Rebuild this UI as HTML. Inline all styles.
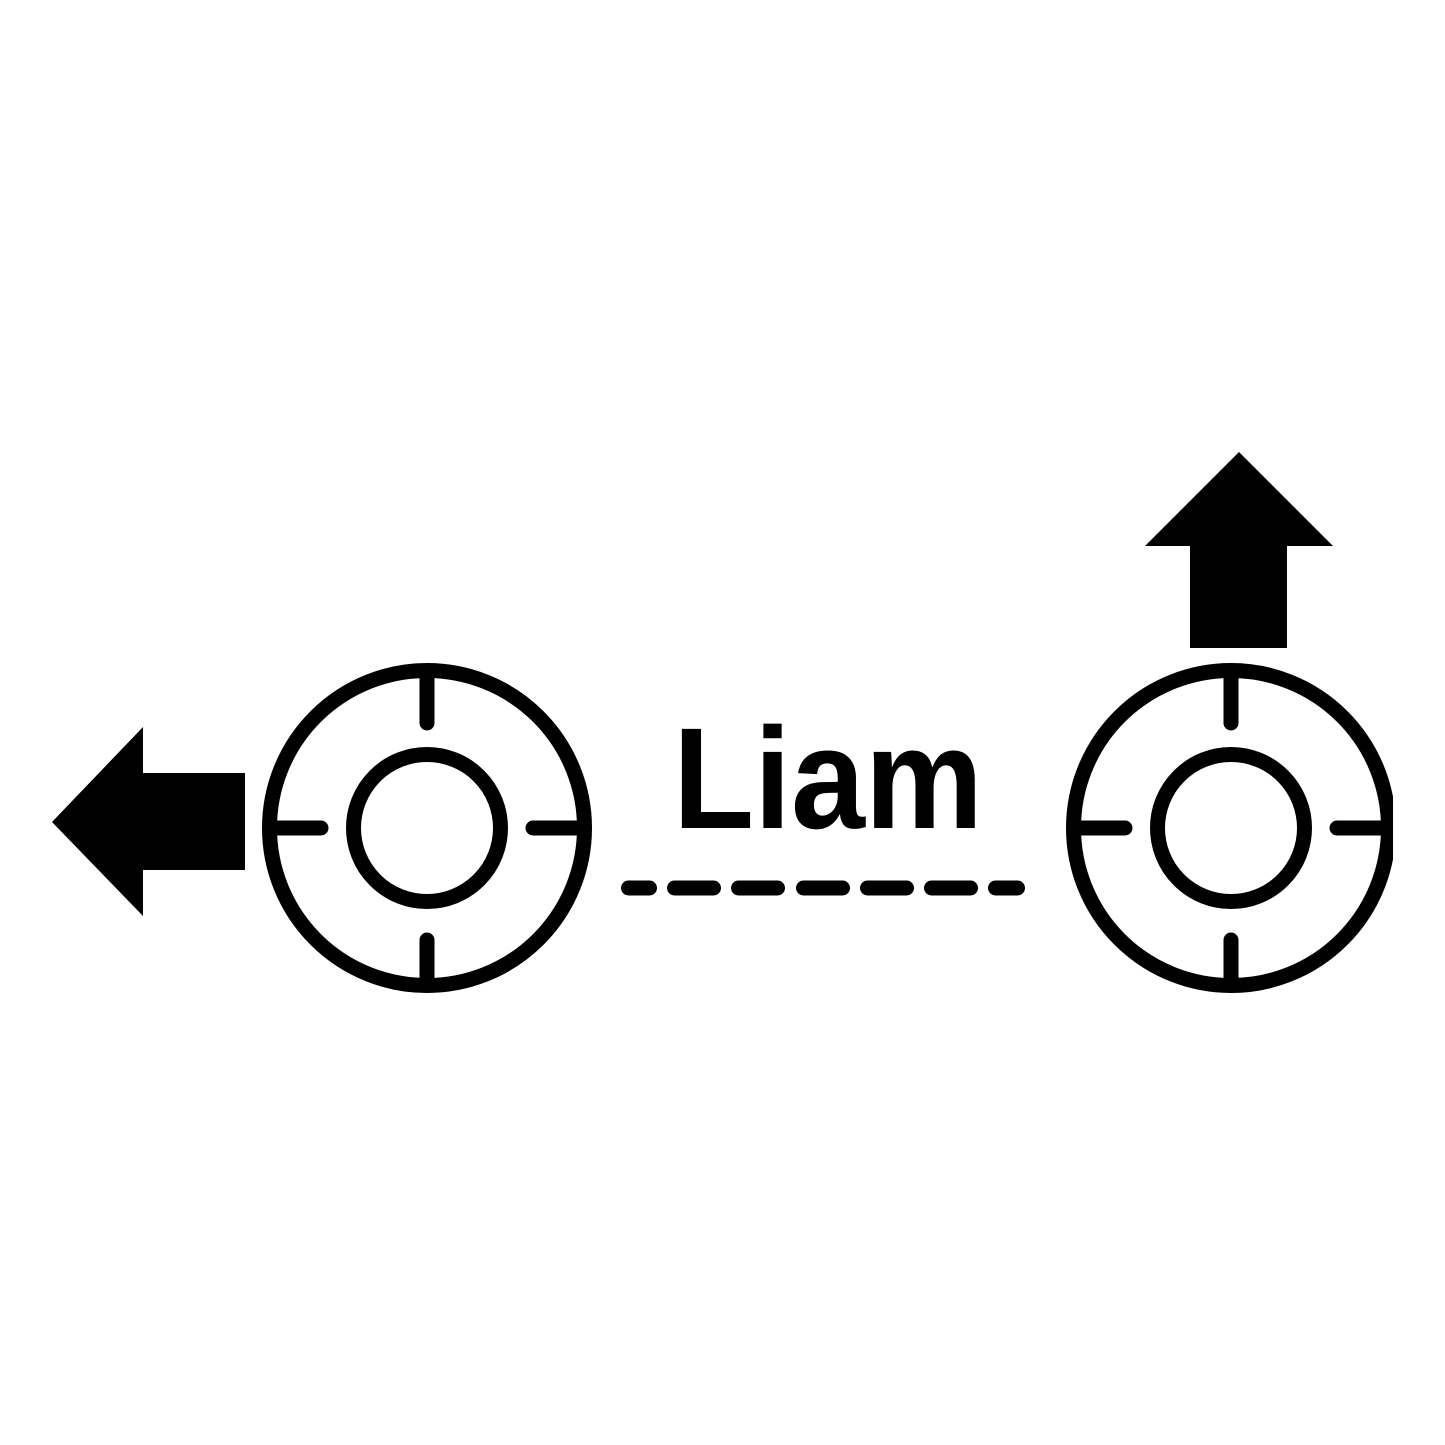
<!DOCTYPE html>
<html><head><style>html,body{margin:0;padding:0;background:#fff}svg{display:block}</style></head>
<body>
<svg width="1445" height="1445" viewBox="0 0 1445 1445" xmlns="http://www.w3.org/2000/svg">
<rect width="1445" height="1445" fill="#fff"/>
<defs><clipPath id="c"><rect x="0" y="0" width="1393" height="993.5"/></clipPath></defs>
<polygon points="52,822 143,727 143,773 245,773 245,870 143,870 143,916" fill="#000"/>
<polygon points="1239,452 1333,546 1287,546 1287,648 1190,648 1190,546 1145,546" fill="#000"/>
<g clip-path="url(#c)" fill="none" stroke="#000" stroke-width="15" stroke-linecap="round">
<g transform="translate(427,828)">
<circle r="157.5"/><circle r="73.5"/>
<line x1="0" y1="-152" x2="0" y2="-105"/><line x1="0" y1="152" x2="0" y2="112"/>
<line x1="-152" y1="0" x2="-106" y2="0"/><line x1="152" y1="0" x2="106" y2="0"/>
</g>
<g transform="translate(1231,828)">
<circle r="157.5"/><circle r="73.5"/>
<line x1="0" y1="-152" x2="0" y2="-105"/><line x1="0" y1="152" x2="0" y2="112"/>
<line x1="-152" y1="0" x2="-106" y2="0"/><line x1="152" y1="0" x2="106" y2="0"/>
</g>
</g>
<g stroke="#000" stroke-width="15" stroke-linecap="round">
<line x1="628.5" y1="888" x2="649.5" y2="888"/>
<line x1="674.5" y1="888" x2="713.5" y2="888"/>
<line x1="738.5" y1="888" x2="777.5" y2="888"/>
<line x1="803.5" y1="888" x2="842.5" y2="888"/>
<line x1="867.5" y1="888" x2="906.5" y2="888"/>
<line x1="931.5" y1="888" x2="970.5" y2="888"/>
<line x1="995.5" y1="888" x2="1017.5" y2="888"/>
</g>
<text x="673" y="828" font-family="Liberation Sans, sans-serif" font-weight="bold" font-size="144" textLength="310" lengthAdjust="spacingAndGlyphs" fill="#000">Liam</text>
</svg>
</body></html>
